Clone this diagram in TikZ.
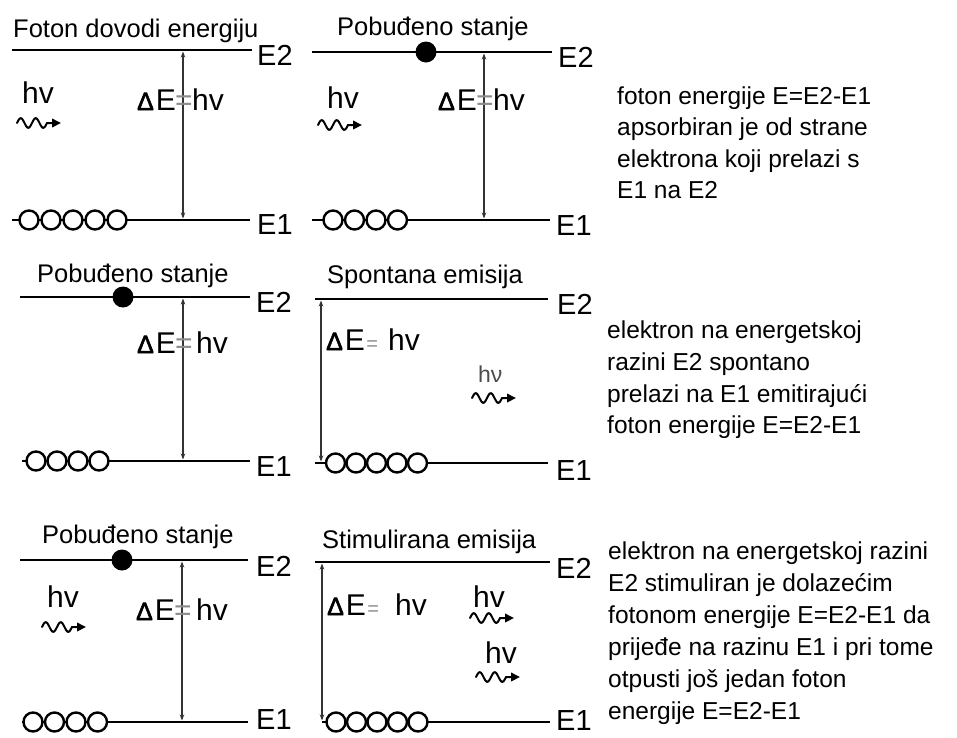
\documentclass[tikz,border=0pt]{standalone}
\usepackage{fontspec}
\setmainfont{Liberation Sans}
\newfontfamily\deltafont{Liberation Sans}[FakeBold=2.5]
\usetikzlibrary{arrows.meta}
\newcommand{\photonwave}[2]{%
  \draw[photon] plot[domain=0:30,samples=60,smooth] ({#1+\x},{#2-4.8*sin(\x*360/15)}) -- ({#1+44},{#2});}
\tikzset{
  level/.style={line width=2.7pt, black},
  elec/.style={circle, draw=black, line width=2.4pt, fill=white, minimum size=19pt, inner sep=0pt},
  edot/.style={circle, fill=black, minimum size=21pt, inner sep=0pt},
  varrow/.style={line width=1.2pt, draw=black!80, {Stealth[length=6pt,width=4.5pt]}-{Stealth[length=6pt,width=4.5pt]}},
  photon/.style={line width=2pt, black, line cap=round, -{Triangle[length=9pt,width=8.5pt]}},
  ttl/.style={anchor=base west, inner sep=0pt, font=\fontsize{25.5}{30}\selectfont},
  elab/.style={anchor=base west, inner sep=0pt, font=\fontsize{29}{34}\selectfont},
  big/.style={inner sep=0pt, font=\fontsize{30}{36}\selectfont},
  eqbig/.style={anchor=base, inner sep=0pt, text=black!45, font=\fontsize{30}{36}\selectfont},
  eqsmall/.style={anchor=base west, inner sep=1pt, text=black!45, font=\fontsize{20}{24}\selectfont},
  hnu/.style={anchor=base west, inner sep=0pt, font=\fontsize{30}{36}\selectfont},
  desc/.style={anchor=base west, inner sep=0pt, font=\fontsize{24.5}{30}\selectfont},
}
\newcommand{\dE}{{\fontsize{25}{28}\deltafont Δ}\hspace{2pt}E}
\begin{document}
\begin{tikzpicture}[x=1pt,y=-1pt]
\useasboundingbox (0,0) rectangle (957,737);

% ---------- Panel 1 ----------
\draw[level] (12,50) coordinate (p1tl) -- (252,50) coordinate (p1tr);
\draw[level] (12,220) coordinate (p1bl) -- (250,220) coordinate (p1br);
\foreach \xx [count=\k] in {29,51,73,95,117} \node[elec] (p1c\k) at (\xx,220) {};
\node[ttl] (p1title) at (13,37) {Foton dovodi energiju};
\node[elab] (p1E2) at (257,65) {E2};
\node[elab] (p1E1) at (257,234) {E1};
\coordinate (p1a) at (183,51.5);
\coordinate (p1b) at (183,218.5);
\draw[varrow] (p1a) -- (p1b);
\node[big, anchor=base east] (p1de) at (176,110) {\dE};
\node[eqbig] (p1eq) at (184,110) {=};
\node[hnu] (p1hv) at (192,110) {hv};
\node[hnu] (p1ph) at (22,103) {hv};
\photonwave{17}{123}

% ---------- Panel 2 ----------
\draw[level] (312,52) coordinate (p2tl) -- (552,52) coordinate (p2tr);
\draw[level] (312,220) coordinate (p2bl) -- (550,220) coordinate (p2br);
\foreach \xx [count=\k] in {333,354.5,376,397.5} \node[elec] (p2c\k) at (\xx,220) {};
\node[edot] (p2dot) at (426,52) {};
\node[ttl] (p2title) at (337,35) {Pobuđeno stanje};
\node[elab] (p2E2) at (558,67) {E2};
\node[elab] (p2E1) at (556,235) {E1};
\coordinate (p2a) at (484,53.5);
\coordinate (p2b) at (484,218.5);
\draw[varrow] (p2a) -- (p2b);
\node[big, anchor=base east] (p2de) at (477,110) {\dE};
\node[eqbig] (p2eq) at (485,110) {=};
\node[hnu] (p2hv) at (493,110) {hv};
\node[hnu] (p2ph) at (327,108) {hv};
\photonwave{318}{125}

% ---------- Panel 3 ----------
\draw[level] (20,297) coordinate (p3tl) -- (250,297) coordinate (p3tr);
\draw[level] (22,461) coordinate (p3bl) -- (250,461) coordinate (p3br);
\foreach \xx [count=\k] in {36,57,78,99} \node[elec] (p3c\k) at (\xx,461) {};
\node[edot] (p3dot) at (123,297) {};
\node[ttl] (p3title) at (37,282) {Pobuđeno stanje};
\node[elab] (p3E2) at (256,312) {E2};
\node[elab] (p3E1) at (256,476) {E1};
\coordinate (p3a) at (183,298.5);
\coordinate (p3b) at (183,459.5);
\draw[varrow] (p3a) -- (p3b);
\node[big, anchor=base east] (p3de) at (176,353) {\dE};
\node[eqbig] (p3eq) at (184,353) {=};
\node[hnu] (p3hv) at (196,353) {hv};

% ---------- Panel 4 ----------
\draw[level] (315,299) coordinate (p4tl) -- (548,299) coordinate (p4tr);
\draw[level] (315,463) coordinate (p4bl) -- (548,463) coordinate (p4br);
\foreach \xx [count=\k] in {335.5,356,376.5,397,417.5} \node[elec] (p4c\k) at (\xx,463) {};
\node[ttl] (p4title) at (327,283) {Spontana emisija};
\node[elab] (p4E2) at (557,314) {E2};
\node[elab] (p4E1) at (556,480) {E1};
\coordinate (p4a) at (321,300.5);
\coordinate (p4b) at (321,461.5);
\draw[varrow] (p4a) -- (p4b);
\node[big, anchor=base west] (p4de) at (326,350) {\dE};
\node[eqsmall] (p4eq) at (p4de.base east) {=};
\node[hnu] (p4hv) at (388,350) {hv};
\node[anchor=base west, inner sep=0pt, text=black!70, font=\fontsize{23}{28}\selectfont] (p4ph) at (478,382) {hν};
\photonwave{472}{398}

% ---------- Panel 5 ----------
\draw[level] (20,560) coordinate (p5tl) -- (248,560) coordinate (p5tr);
\draw[level] (22,722) coordinate (p5bl) -- (248,722) coordinate (p5br);
\foreach \xx [count=\k] in {33,54.5,76,97.5} \node[elec] (p5c\k) at (\xx,722) {};
\node[edot] (p5dot) at (122,560) {};
\node[ttl] (p5title) at (42,543) {Pobuđeno stanje};
\node[elab] (p5E2) at (256,576) {E2};
\node[elab] (p5E1) at (256,729) {E1};
\coordinate (p5a) at (182,561.5);
\coordinate (p5b) at (182,720.5);
\draw[varrow] (p5a) -- (p5b);
\node[big, anchor=base east] (p5de) at (175,620) {\dE};
\node[eqbig] (p5eq) at (183,620) {=};
\node[hnu] (p5hv) at (196,620) {hv};
\node[hnu] (p5ph) at (47,607) {hv};
\photonwave{42}{627}

% ---------- Panel 6 ----------
\draw[level] (315,562) coordinate (p6tl) -- (550,562) coordinate (p6tr);
\draw[level] (322,722) coordinate (p6bl) -- (550,722) coordinate (p6br);
\foreach \xx [count=\k] in {336,356.5,377,397.5,418} \node[elec] (p6c\k) at (\xx,722) {};
\node[ttl] (p6title) at (322,548) {Stimulirana emisija};
\node[elab] (p6E2) at (556,578) {E2};
\node[elab] (p6E1) at (556,730) {E1};
\coordinate (p6a) at (322,563.5);
\coordinate (p6b) at (322,720.5);
\draw[varrow] (p6a) -- (p6b);
\node[big, anchor=base west] (p6de) at (327,615) {\dE};
\node[eqsmall] (p6eq) at (p6de.base east) {=};
\node[hnu] (p6hv) at (395,615) {hv};
\node[hnu] (p6pha) at (473,607) {hv};
\photonwave{470}{618}
\node[hnu] (p6phb) at (485,663) {hv};
\photonwave{476}{677}

% ---------- Descriptions ----------
\node[desc] (d1a) at (617,104) {foton energije E=E2-E1};
\node[desc] (d1b) at (617,135) {apsorbiran je od strane};
\node[desc] (d1c) at (617,167) {elektrona koji prelazi s};
\node[desc] (d1d) at (617,198) {E1 na E2};

\node[desc] (d2a) at (607,338) {elektron na energetskoj};
\node[desc] (d2b) at (607,370) {razini E2 spontano};
\node[desc] (d2c) at (607,402) {prelazi na E1 emitirajući};
\node[desc] (d2d) at (607,433) {foton energije E=E2-E1};

\node[desc] (d3a) at (608,559) {elektron na energetskoj razini};
\node[desc] (d3b) at (608,591) {E2 stimuliran je dolazećim};
\node[desc] (d3c) at (608,623) {fotonom energije E=E2-E1 da};
\node[desc] (d3d) at (608,655) {prijeđe na razinu E1 i pri tome};
\node[desc] (d3e) at (608,687) {otpusti još jedan foton};
\node[desc] (d3f) at (608,719) {energije E=E2-E1};
\end{tikzpicture}
\end{document}
